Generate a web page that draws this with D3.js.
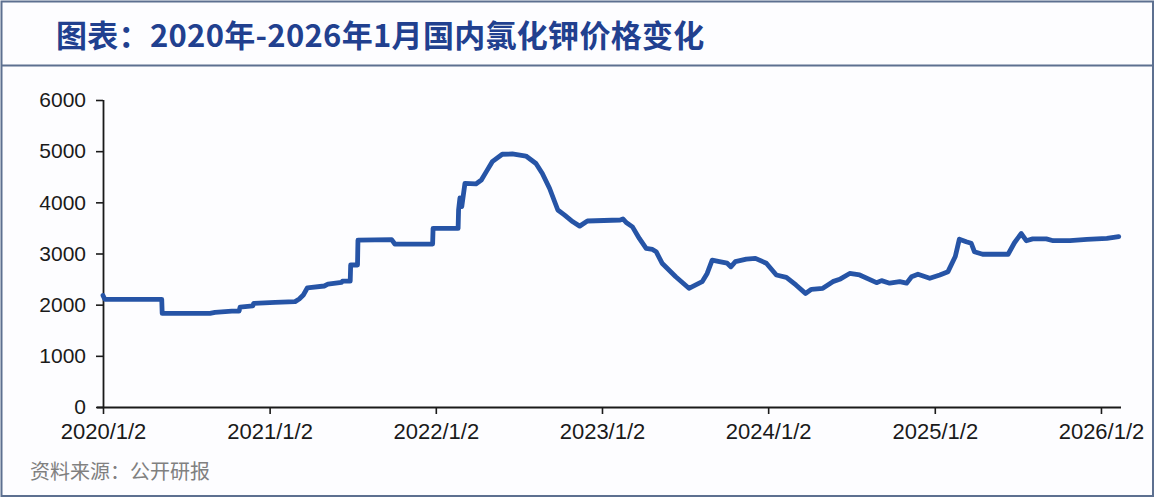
<!DOCTYPE html>
<html>
<head>
<meta charset="utf-8">
<script src="https://cdn.jsdelivr.net/npm/d3@7"></script>
<style>
  html, body { margin: 0; padding: 0; background: #ffffff; }
  svg { display: block; }
</style>
</head>
<body>
<svg id="chart" width="1157" height="500"></svg>
<script>
// ---- data ----
const titleText = "图表：2020年-2026年1月国内氯化钾价格变化";
const sourceText = "资料来源：公开研报";
const dates = [
  "2020-01-02","2020-01-06","2020-05-10","2020-05-11","2020-08-24","2020-09-04","2020-10-11","2020-10-27","2020-10-29",
  "2020-11-26","2020-11-28","2021-01-14","2021-02-27","2021-03-08","2021-03-17","2021-03-26","2021-05-02","2021-05-10",
  "2021-06-09","2021-06-11","2021-06-28","2021-06-29","2021-07-14","2021-07-15","2021-09-27","2021-10-04","2021-12-26",
  "2021-12-27","2022-02-20","2022-02-21","2022-02-24","2022-02-28","2022-03-07","2022-03-31","2022-04-12","2022-04-23",
  "2022-05-06","2022-05-28","2022-06-19","2022-07-19","2022-08-10","2022-08-24","2022-09-09","2022-09-27","2022-10-12",
  "2022-10-30","2022-11-14","2022-12-01","2023-02-11","2023-02-17","2023-02-25","2023-03-10","2023-03-25","2023-04-09",
  "2023-04-23","2023-05-01","2023-05-14","2023-06-13","2023-07-12","2023-08-10","2023-08-21","2023-09-01","2023-09-17",
  "2023-10-04","2023-10-12","2023-10-22","2023-11-15","2023-12-05","2023-12-29","2024-01-20","2024-02-11","2024-03-03",
  "2024-03-24","2024-04-06","2024-05-01","2024-05-23","2024-06-07","2024-06-29","2024-07-21","2024-08-27","2024-09-07",
  "2024-09-25","2024-10-17","2024-11-01","2024-11-12","2024-11-26","2024-12-22","2025-01-13","2025-01-31","2025-02-16",
  "2025-02-25","2025-03-12","2025-03-23","2025-03-30","2025-04-17","2025-06-12","2025-06-26","2025-07-03","2025-07-11",
  "2025-07-22","2025-08-05","2025-09-04","2025-09-19","2025-10-26","2025-12-02","2026-01-15","2026-02-10"
];
const prices = [
  2180,2105,2105,1830,1830,1850,1875,1875,1950,
  1975,2025,2045,2060,2110,2190,2330,2365,2400,
  2435,2460,2460,2775,2775,3260,3270,3185,3185,
  3490,3490,3850,4085,3915,4370,4360,4435,4600,
  4795,4940,4945,4905,4760,4565,4270,3850,3750,
  3620,3535,3635,3655,3675,3600,3520,3295,3100,
  3080,3035,2810,2545,2320,2450,2610,2870,2840,
  2810,2740,2840,2890,2905,2810,2580,2535,2385,
  2220,2300,2320,2450,2495,2610,2580,2430,2470,
  2420,2450,2420,2545,2595,2515,2580,2645,2940,
  3280,3230,3200,3035,2985,2985,3210,3295,3390,
  3250,3285,3285,3250,3250,3275,3295,3330
];
const yTicks = [0, 1000, 2000, 3000, 4000, 5000, 6000];
const xTickDates = ["2020-01-02","2021-01-02","2022-01-02","2023-01-02","2024-01-02","2025-01-02","2026-01-02"];
const xTickLabels = ["2020/1/2","2021/1/2","2022/1/2","2023/1/2","2024/1/2","2025/1/2","2026/1/2"];
const xDomain = ["2020-01-02","2026-02-15"];

// ---- drawing ----
const parse = d3.utcParse("%Y-%m-%d");
const svg = d3.select("#chart");

// frame
svg.append("rect").attr("x", 1.5).attr("y", 1.5).attr("width", 1151.5).attr("height", 494.5)
  .attr("fill", "#fdfdff").attr("stroke", "#5d7090").attr("stroke-width", 2);
svg.append("line").attr("x1", 1.5).attr("x2", 1153).attr("y1", 65.5).attr("y2", 65.5)
  .attr("stroke", "#5d7090").attr("stroke-width", 2);

// title
svg.append("text").attr("x", 56).attr("y", 47)
  .attr("font-family", "'Noto Sans CJK SC', 'Noto Sans', sans-serif")
  .attr("font-weight", "bold").attr("font-size", 31).attr("letter-spacing", 0.3)
  .attr("fill", "#21408f")
  .text(titleText);

const x = d3.scaleUtc().domain(xDomain.map(parse)).range([103, 1121]);
const y = d3.scaleLinear().domain([0, 6000]).range([407, 100]);

const data = dates.map((d, i) => ({ date: parse(d), value: prices[i] }));

// axes
const numFont = "'Liberation Sans', Arial, sans-serif";
const yAxis = svg.append("g").attr("transform", "translate(103,0)")
  .call(d3.axisLeft(y).tickValues(yTicks).tickSize(7).tickPadding(10).tickFormat(d3.format("d")));
yAxis.selectAll("text").attr("font-family", numFont).attr("font-size", 21).attr("fill", "#1a1a1a");

const xAxis = svg.append("g").attr("transform", "translate(0,407)")
  .call(d3.axisBottom(x).tickValues(xTickDates.map(parse)).tickSize(7).tickPadding(9)
    .tickFormat((d, i) => xTickLabels[i]));
xAxis.selectAll("text").attr("font-family", numFont).attr("font-size", 22).attr("fill", "#1a1a1a");
xAxis.select(".domain").attr("d", "M" + 97 + ",0.5H" + x.range()[1]);
yAxis.select(".domain").attr("d", "M0.5,100V407");

[xAxis, yAxis].forEach(g => {
  g.selectAll("line").attr("stroke", "#1a1a1a").attr("stroke-width", 1.6);
  g.select(".domain").attr("stroke", "#1a1a1a").attr("stroke-width", 1.8);
});

// line
const line = d3.line().x(d => x(d.date)).y(d => y(d.value));
svg.append("path").datum(data)
  .attr("fill", "none").attr("stroke", "#2654a6").attr("stroke-width", 4.8)
  .attr("stroke-linejoin", "round").attr("stroke-linecap", "round")
  .attr("d", line);

// source
svg.append("text").attr("x", 30).attr("y", 479)
  .attr("font-family", "'Noto Sans CJK SC', sans-serif")
  .attr("font-size", 20).attr("fill", "#808080")
  .text(sourceText);
</script>
</body>
</html>
